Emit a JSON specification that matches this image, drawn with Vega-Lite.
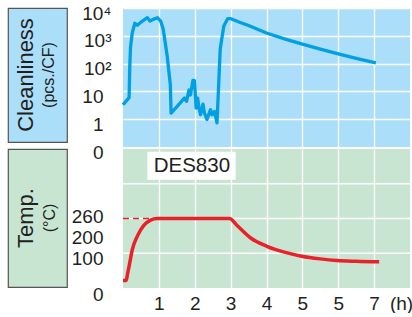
{
  "$schema": "https://vega.github.io/schema/vega-lite/v6.json",
  "padding": {"left": 7, "top": 4, "right": 0, "bottom": 0},
  "background": "white",
  "columns": 2,
  "spacing": {"row": 2, "column": 56},
  "bounds": "flush",
  "resolve": {"scale": {"x": "independent", "y": "independent"}},
  "config": {
    "font": "Liberation Sans",
    "view": {"stroke": null},
    "axis": {
      "labelFont": "Liberation Sans",
      "labelColor": "#231f20",
      "labelFontSize": 19,
      "domain": false,
      "ticks": false,
      "labelFlush": false,
      "labelOverlap": false,
      "gridWidth": 1.3
    }
  },
  "concat": [
    {
      "width": 59,
      "height": 134,
      "view": {"fill": "#abdef8", "stroke": "#555555", "strokeWidth": 1.2},
      "data": {"values": [{"line": "Cleanliness", "role": "main"}, {"line": "(pcs./CF)", "role": "unit"}]},
      "layer": [
        {
          "transform": [{"filter": "datum.role == 'main'"}],
          "mark": {"type": "text", "angle": 270, "fontSize": 22, "color": "#231f20"},
          "encoding": {
            "x": {"field": "role", "type": "nominal", "scale": {"type": "point", "domain": ["main", "unit"], "range": [18, 41], "padding": 0}, "axis": null},
            "text": {"field": "line"}
          }
        },
        {
          "transform": [{"filter": "datum.role == 'unit'"}],
          "mark": {"type": "text", "angle": 270, "fontSize": 16, "color": "#231f20"},
          "encoding": {
            "x": {"field": "role", "type": "nominal", "axis": null},
            "text": {"field": "line"}
          }
        }
      ]
    },
    {
      "width": 287,
      "height": 139,
      "view": {"fill": "#abdef8", "stroke": null},
      "data": {"values": [
        {"hour": 0.00, "pcs": 3.3},
        {"hour": 0.17, "pcs": 6.0},
        {"hour": 0.19, "pcs": 87},
        {"hour": 0.21, "pcs": 400},
        {"hour": 0.26, "pcs": 1320},
        {"hour": 0.33, "pcs": 2820},
        {"hour": 0.40, "pcs": 2400},
        {"hour": 0.54, "pcs": 3390},
        {"hour": 0.68, "pcs": 4470},
        {"hour": 0.75, "pcs": 3390},
        {"hour": 0.84, "pcs": 3890},
        {"hour": 0.96, "pcs": 4470},
        {"hour": 1.05, "pcs": 3390},
        {"hour": 1.12, "pcs": 1740},
        {"hour": 1.23, "pcs": 195},
        {"hour": 1.32, "pcs": 17},
        {"hour": 1.34, "pcs": 1.66},
        {"hour": 1.51, "pcs": 2.9},
        {"hour": 1.71, "pcs": 5.75},
        {"hour": 1.77, "pcs": 4.4},
        {"hour": 1.84, "pcs": 11.2},
        {"hour": 1.88, "pcs": 7.4},
        {"hour": 1.95, "pcs": 25},
        {"hour": 1.99, "pcs": 25},
        {"hour": 2.04, "pcs": 2.5},
        {"hour": 2.08, "pcs": 5.75},
        {"hour": 2.12, "pcs": 2.5},
        {"hour": 2.16, "pcs": 1.45},
        {"hour": 2.23, "pcs": 3.5},
        {"hour": 2.27, "pcs": 1.66},
        {"hour": 2.34, "pcs": 0.98},
        {"hour": 2.44, "pcs": 2.2},
        {"hour": 2.48, "pcs": 1.45},
        {"hour": 2.55, "pcs": 1.9},
        {"hour": 2.62, "pcs": 0.74},
        {"hour": 2.67, "pcs": 22},
        {"hour": 2.71, "pcs": 340},
        {"hour": 2.81, "pcs": 2240},
        {"hour": 2.92, "pcs": 4170},
        {"hour": 2.99, "pcs": 4170},
        {"hour": 3.25, "pcs": 3090},
        {"hour": 3.50, "pcs": 2340},
        {"hour": 4.00, "pcs": 1260},
        {"hour": 4.50, "pcs": 776},
        {"hour": 5.00, "pcs": 500},
        {"hour": 5.50, "pcs": 331},
        {"hour": 6.00, "pcs": 224},
        {"hour": 6.50, "pcs": 155},
        {"hour": 7.05, "pcs": 107}
      ]},
      "mark": {"type": "line", "color": "#00a0e3", "strokeWidth": 3.3, "strokeJoin": "round"},
      "encoding": {
        "x": {
          "field": "hour", "type": "quantitative",
          "scale": {"domain": [0, 8], "nice": false, "zero": false},
          "axis": {"values": [1, 2, 3, 4, 5, 6, 7], "labels": false, "grid": true, "gridColor": "white", "title": null}
        },
        "y": {
          "field": "pcs", "type": "quantitative",
          "scale": {"type": "log", "domain": [0.1, 10000], "nice": false},
          "axis": {
            "title": null,
            "values": [0.1, 1, 10, 100, 1000, 10000],
            "labelExpr": "datum.value < 0.5 ? '0' : datum.value < 5 ? '1' : datum.value < 50 ? '10' : datum.value < 500 ? '10²' : datum.value < 5000 ? '10³' : '10⁴'",
            "labelPadding": {"condition": {"test": "datum.value > 50", "value": 12}, "value": 20},
            "labelOffset": 5,
            "labelOverlap": false,
            "grid": true,
            "gridColor": {"condition": {"test": "datum.value < 0.5", "value": "transparent"}, "value": "white"}
          }
        }
      }
    },
    {
      "width": 59,
      "height": 138,
      "view": {"fill": "#c8e5d2", "stroke": "#555555", "strokeWidth": 1.2},
      "data": {"values": [{"line": "Temp.", "role": "main"}, {"line": "(°C)", "role": "unit"}]},
      "layer": [
        {
          "transform": [{"filter": "datum.role == 'main'"}],
          "mark": {"type": "text", "angle": 270, "fontSize": 22, "color": "#231f20"},
          "encoding": {
            "x": {"field": "role", "type": "nominal", "scale": {"type": "point", "domain": ["main", "unit"], "range": [18, 42], "padding": 0}, "axis": null},
            "text": {"field": "line"}
          }
        },
        {
          "transform": [{"filter": "datum.role == 'unit'"}],
          "mark": {"type": "text", "angle": 270, "fontSize": 16, "color": "#231f20"},
          "encoding": {
            "x": {"field": "role", "type": "nominal", "axis": null},
            "text": {"field": "line"}
          }
        }
      ]
    },
    {
      "width": 287,
      "height": 139,
      "view": {"fill": "#c8e5d2", "stroke": null},
      "layer": [
        {
          "data": {"values": [{"temp": 130}, {"temp": 260}, {"temp": 390}]},
          "mark": {"type": "rule", "color": "white", "strokeWidth": 1.3},
          "encoding": {
            "y": {"field": "temp", "type": "quantitative", "title": null}
          }
        },
        {
          "data": {"values": [
            {"hour": 0.00, "temp": 28},
            {"hour": 0.09, "temp": 28},
            {"hour": 0.13, "temp": 55},
            {"hour": 0.17, "temp": 81},
            {"hour": 0.26, "temp": 144},
            {"hour": 0.40, "temp": 194},
            {"hour": 0.58, "temp": 234},
            {"hour": 0.77, "temp": 254},
            {"hour": 0.96, "temp": 260},
            {"hour": 2.97, "temp": 260},
            {"hour": 3.18, "temp": 234},
            {"hour": 3.55, "temp": 188},
            {"hour": 4.01, "temp": 156},
            {"hour": 4.50, "temp": 134},
            {"hour": 4.98, "temp": 119},
            {"hour": 5.50, "temp": 109},
            {"hour": 5.96, "temp": 103},
            {"hour": 6.50, "temp": 100},
            {"hour": 7.14, "temp": 98}
          ]},
          "mark": {"type": "line", "color": "#e8212b", "strokeWidth": 3.5, "interpolate": "monotone"},
          "encoding": {
            "x": {
              "field": "hour", "type": "quantitative", "title": null,
              "scale": {"domain": [0, 8], "nice": false, "zero": false},
              "axis": {
                "title": null,
                "values": [1, 2, 3, 4, 5, 6, 7, 7.75],
                "labelExpr": "datum.value == 6 ? '5' : datum.value > 7.5 ? '(h)' : datum.label",
                "labelPadding": 6,
                "labelOverlap": false,
                "grid": true,
                "gridColor": {"condition": {"test": "datum.value > 7.5", "value": "transparent"}, "value": "white"}
              }
            },
            "y": {
              "field": "temp", "type": "quantitative", "title": null,
              "scale": {"domain": [0, 520], "nice": false},
              "axis": {
                "title": null,
                "values": [0, 100, 200, 260],
                "labelPadding": 20,
                "labelOverlap": false,
                "labelOffset": {"condition": [{"test": "datum.value == 0", "value": 6}, {"test": "datum.value == 200", "value": 3}], "value": -2.5},
                "grid": false
              }
            }
          }
        },
        {
          "data": {"values": [{"hour": 0, "temp": 260}, {"hour": 1, "temp": 260}]},
          "mark": {"type": "line", "color": "#e8212b", "strokeWidth": 1.5, "strokeDash": [6, 4]},
          "encoding": {
            "x": {"field": "hour", "type": "quantitative", "title": null},
            "y": {"field": "temp", "type": "quantitative", "title": null}
          }
        },
        {
          "data": {"values": [{"label": "DES830"}]},
          "mark": {"type": "rect", "fill": "white"},
          "encoding": {
            "x": {"datum": 0.68, "type": "quantitative", "title": null},
            "x2": {"datum": 3.14},
            "y": {"datum": 405, "type": "quantitative", "title": null},
            "y2": {"datum": 510}
          }
        },
        {
          "data": {"values": [{"label": "DES830"}]},
          "mark": {"type": "text", "fontSize": 20.5, "color": "#231f20"},
          "encoding": {
            "x": {"datum": 1.92, "type": "quantitative", "title": null},
            "y": {"datum": 456, "type": "quantitative", "title": null},
            "text": {"field": "label"}
          }
        }
      ]
    }
  ]
}
